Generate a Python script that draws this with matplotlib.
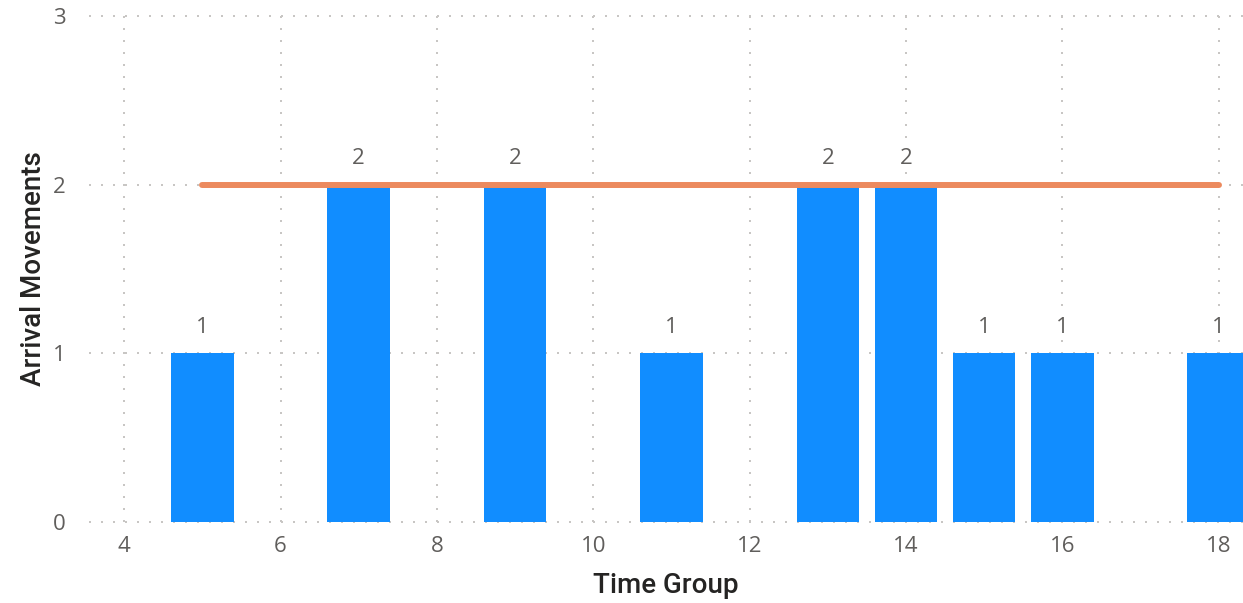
import matplotlib
matplotlib.use("Agg")
import matplotlib.pyplot as plt

# --- dữ liệu ---
time_group = [5, 7, 9, 11, 13, 14, 15, 16, 18]
arrivals = [1, 2, 2, 1, 2, 2, 1, 1, 1]
avg_line = [2, 2, 2, 2, 2, 2, 2, 2, 2]
x_ticks = [4, 6, 8, 10, 12, 14, 16, 18]
y_ticks = [0, 1, 2, 3]

bar_color = "#118DFF"
line_color = "#EC8A5E"
tick_color = "#605E5C"
title_color = "#252423"
grid_color = "#C8C6C4"

plt.rcParams['font.family'] = ['Open Sans', 'DejaVu Sans']

fig = plt.figure(figsize=(12.43, 6.03), dpi=100)
ax = fig.add_axes([89 / 1243, 81 / 603, 1 - 89 / 1243, (522 - 16) / 603])

ax.bar(time_group, arrivals, width=0.8, color=bar_color, zorder=2)
ax.plot(time_group, avg_line, color=line_color, lw=4.3,
        solid_capstyle='round', zorder=3)

for xv, yv in zip(time_group, arrivals):
    ax.text(xv, yv + 0.155, str(yv), ha='center', va='center',
            fontsize=16, color=tick_color, zorder=4,
            bbox=dict(facecolor='white', edgecolor='none', pad=1))

ax.set_xlim(3.55, 18.31)
ax.set_ylim(0, 3)

# lưới chấm
for yv in y_ticks:
    ax.plot([3.55, 18.31], [yv, yv], color=grid_color, lw=1.44,
            ls=(0, (1, 5)), zorder=1, clip_on=False)
for xv in x_ticks:
    ax.plot([xv, xv], [0, 3], color=grid_color, lw=1.44,
            ls=(0, (1, 5)), zorder=1, clip_on=False)

ax.set_xticks(x_ticks)
ax.set_yticks(y_ticks)
ax.tick_params(axis='both', length=0, labelsize=16, colors=tick_color)
ax.tick_params(axis='x', pad=10)
ax.tick_params(axis='y', pad=17)
for s in ax.spines.values():
    s.set_visible(False)

ax.set_xlabel("Time Group", fontsize=20, color=title_color,
              fontweight='medium', family=['Roboto', 'DejaVu Sans'],
              labelpad=11)
ax.set_ylabel("Arrival Movements", fontsize=20, color=title_color,
              fontweight='medium', family=['Roboto', 'DejaVu Sans'],
              labelpad=4)

fig.savefig("out.png", dpi=100)
